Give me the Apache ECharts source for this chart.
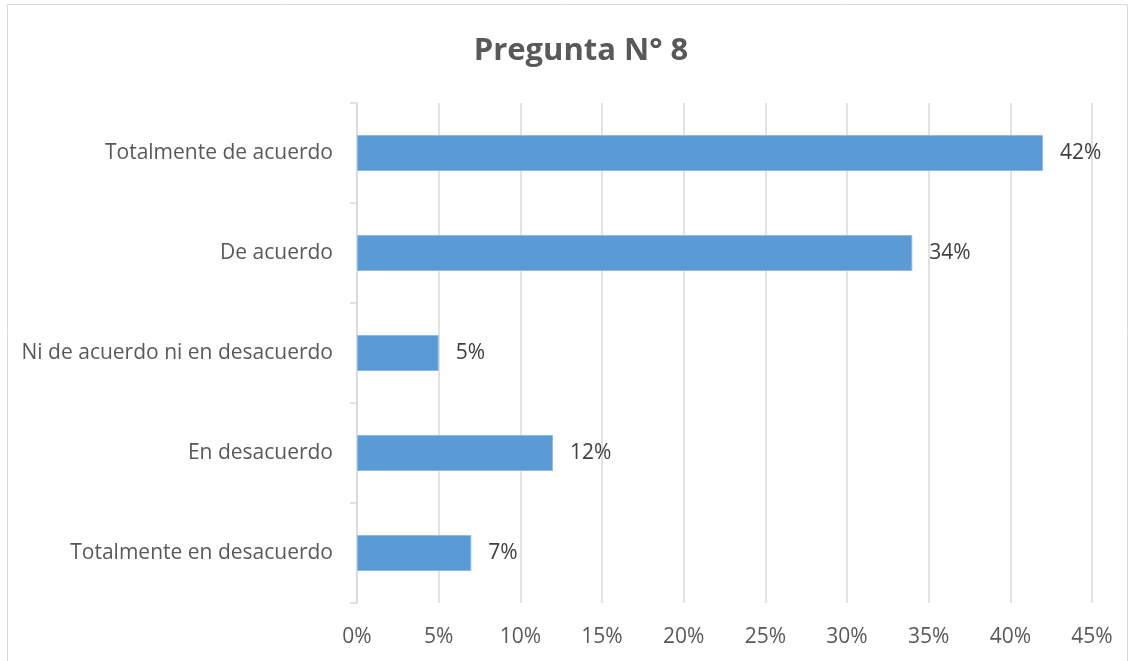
<!DOCTYPE html>
<html>
<head>
<meta charset="utf-8">
<script src="https://cdn.jsdelivr.net/npm/echarts@6/dist/echarts.min.js"></script>
<style>
  html, body { margin: 0; padding: 0; background: #fff; }
  #chart { width: 1134px; height: 661px; }
</style>
</head>
<body>
<div id="chart"></div>
<script>
// Survey answers for question 8 (percent of respondents)
const categories = [
  'Totalmente de acuerdo',
  'De acuerdo',
  'Ni de acuerdo ni en desacuerdo',
  'En desacuerdo',
  'Totalmente en desacuerdo'
];
const values = [42, 34, 5, 12, 7];
const axisMin = 0;
const axisMax = 45;
const axisStep = 5;

const FONT = '"Open Sans", "Noto Sans", sans-serif';
const chart = echarts.init(document.getElementById('chart'), null, { renderer: 'canvas' });

chart.setOption({
  backgroundColor: '#ffffff',
  animation: false,
  graphic: [{
    type: 'rect',
    shape: { x: 7.5, y: 4.5, width: 1120, height: 660 },
    style: { fill: 'none', stroke: '#d9d9d9', lineWidth: 1 },
    silent: true
  }],
  title: {
    text: 'Pregunta N° 8',
    left: 576,
    top: 31,
    textAlign: 'center',
    textStyle: {
      fontFamily: FONT,
      fontSize: 31,
      fontWeight: 'bold',
      color: '#595959'
    }
  },
  grid: { left: 357, right: 42, top: 103, bottom: 58, containLabel: false },
  xAxis: {
    type: 'value',
    min: axisMin,
    max: axisMax,
    interval: axisStep,
    axisLine: { show: false },
    axisTick: { show: false },
    axisLabel: {
      formatter: '{value}%',
      fontFamily: FONT,
      fontSize: 21,
      color: '#595959',
      margin: 24
    },
    splitLine: { show: true, lineStyle: { color: '#d9d9d9', width: 1.5 } }
  },
  yAxis: {
    type: 'category',
    inverse: true,
    data: categories,
    axisLine: { show: true, lineStyle: { color: '#d9d9d9', width: 1.5 } },
    axisTick: { show: true, length: 7, lineStyle: { color: '#d9d9d9', width: 1.5 } },
    axisLabel: {
      fontFamily: FONT,
      fontSize: 21,
      color: '#595959',
      margin: 24
    },
    splitLine: { show: false }
  },
  series: [{
    type: 'bar',
    data: values,
    barWidth: 36,
    itemStyle: { color: '#5B9BD5', borderColor: '#8FBBE6', borderWidth: 1 },
    label: {
      show: true,
      position: 'right',
      distance: 17,
      formatter: p => p.value + '%',
      fontFamily: FONT,
      fontSize: 21,
      color: '#404040'
    }
  }]
});
</script>
</body>
</html>
